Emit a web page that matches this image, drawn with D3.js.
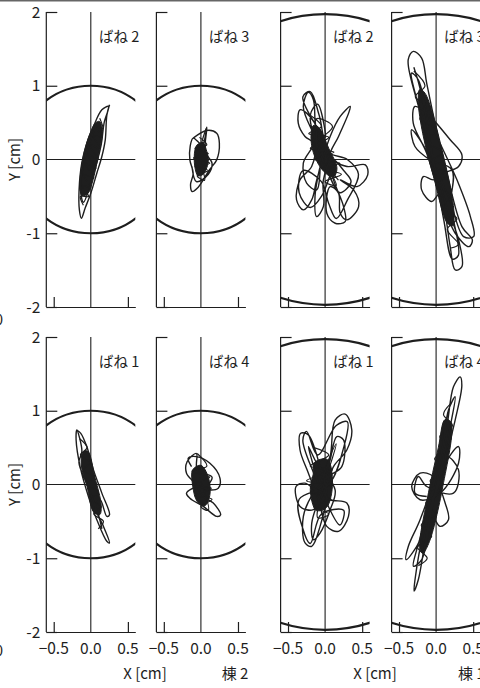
<!DOCTYPE html>
<html>
<head>
<meta charset="utf-8">
<script src="https://cdn.jsdelivr.net/npm/d3@7"></script>
<style>
    body { margin: 0; background: #fff; }
    text { font-family: "Noto Sans CJK JP", "Noto Sans", sans-serif; fill: #1e1e1e; }
</style>
</head>
<body>
<svg id="chart" width="480" height="688"></svg>
<script>
// tick values and labels
var xTicks = [-0.5, 0, 0.5];
var yTicks = [-2, -1, 0, 1, 2];
var springLabels = [["ばね 2", "ばね 3", "ばね 2", "ばね 3"], ["ばね 1", "ばね 4", "ばね 1", "ばね 4"]];
var buildingLabels = ["棟 2", "棟 1"];
var ringRadius = [1, 1, 1.97, 1.97];

// orbits [x cm, y cm]
// core = dense (solid) part, scribble = tight back-and-forth swings through it
// top row
var orbitT1 = [[0.253,0.742],[0.217,0.606],[0.195,0.267],[0.149,0.041],[0.081,-0.186],[0,-0.457],[-0.077,-0.661],[-0.127,-0.796],
    [-0.154,-0.683],[-0.158,-0.412],[-0.122,-0.05],[-0.054,0.222],[0.036,0.448],[0.149,0.674],[0.24,0.72],[0.18,0.5],[0.14,0.2],
    [0.02,-0.25],[-0.1,-0.58],[-0.14,-0.35],[-0.06,0.08],[0.08,0.48]];
var coreT1 = [[0.118,0.516],[0.158,0.38],[0.127,0.176],[0.072,-0.095],[0.018,-0.321],[-0.036,-0.457],[-0.118,-0.493],
    [-0.145,-0.344],[-0.118,-0.05],[-0.063,0.199],[0,0.38],[0.059,0.493]];
var scribbleT1 = [[0.12,0.56],[0.16,0.42],[0.06,0.45],[0.15,0.3],[0.03,0.32],[0.13,0.15],[-0.02,0.2],[0.1,0.0],[-0.06,0.08],
    [0.07,-0.12],[-0.08,-0.05],[0.04,-0.25],[-0.11,-0.2],[0.0,-0.38],[-0.13,-0.35],[-0.03,-0.5],[-0.14,-0.5],[-0.1,-0.62]];

var orbitT2 = [[-0.104,0.29],[0.077,0.394],[0.213,0.357],[0.249,0.222],[0.213,-0.005],[0.122,-0.131],[0.045,-0.253],
    [-0.036,-0.376],[-0.118,-0.434],[-0.14,-0.344],[-0.104,-0.186],[-0.149,-0.005],[-0.145,0.176],[-0.104,0.29],
    [0.02,0.2],[0.08,0.437],[0.06,0.1],[0.15,-0.05],[0.1,-0.2],[-0.06,-0.3],[-0.12,-0.1]];
var coreT2 = [[-0.05,0.2],[0.03,0.23],[0.07,0.14],[0.1,0.0],[0.08,-0.11],[0.03,-0.2],[-0.04,-0.22],[-0.08,-0.11],
    [-0.09,0.02],[-0.08,0.13]];
var scribbleT2 = [[-0.02,0.3],[0.08,0.2],[-0.08,0.15],[0.1,0.08],[-0.1,0.02],[0.12,-0.05],[-0.08,-0.1],[0.1,-0.15],
    [-0.05,-0.22],[0.05,-0.28],[-0.02,0.05],[0.07,0.42]];

var orbitT3 = [[-0.023,0.131],[-0.181,0.403],[-0.294,0.719],[-0.226,0.91],[-0.158,0.81],[-0.136,0.538],[-0.113,0.267],
    [-0.181,-0.095],[-0.339,-0.276],[-0.385,-0.548],[-0.294,-0.683],[-0.181,-0.548],[-0.113,-0.276],[0.068,0.312],
    [0.204,0.584],[0.339,0.719],[0.317,0.629],[0.181,0.312],[0.068,0.041],[0.294,-0.095],[0.543,-0.072],[0.575,-0.208],
    [0.43,-0.367],[0.204,-0.276],[0.385,-0.412],[0.452,-0.638],[0.294,-0.819],[0.204,-0.729],[0.181,-0.457],
    [0.068,-0.367],[0.023,-0.729],[0.136,-0.864],[0.271,-0.842],[0.249,-0.638],[0.113,-0.276],[-0.068,0.357],
    [-0.249,0.629],[-0.339,0.674],[-0.362,0.493],[-0.271,0.312],[-0.158,0.222],[-0.294,-0.05],[-0.249,-0.321],
    [-0.113,-0.412],[-0.068,-0.095],[-0.136,-0.502],[-0.113,-0.774],[-0.023,-0.638],[-0.023,-0.276],[0.1,0.0],
    [0.25,-0.15],[0.35,-0.3],[0.2,-0.45],[0.05,-0.2],[-0.2,0.6],[-0.1,0.75],[0.0,0.3],[-0.3,0.85],[-0.2,0.92],
    [-0.08,0.6],[0.05,0.1],[0.3,0.0],[0.45,-0.2],[0.3,-0.55],[0.15,-0.8],[0.05,-0.6],[-0.05,-0.3],[-0.3,-0.15],
    [-0.35,-0.45],[-0.2,-0.65],[-0.05,-0.5],[0.1,-0.1]];
var coreT3 = [[-0.16,0.46],[-0.09,0.44],[0.05,0.15],[0.16,-0.12],[0.11,-0.24],[-0.02,-0.16],[-0.14,0.04],[-0.19,0.28]];
var scribbleT3 = [[-0.2,0.6],[-0.05,0.45],[-0.22,0.35],[0.05,0.3],[-0.2,0.15],[0.12,0.1],[-0.15,0.0],[0.2,-0.05],
    [-0.05,-0.12],[0.22,-0.2],[0.0,-0.3],[0.15,-0.35],[-0.1,0.2],[0.1,0.45],[-0.12,0.55],[0.02,-0.05],[0.18,-0.28]];

var orbitT4 = [[-0.081,0.267],[-0.262,0.81],[-0.376,1.353],[-0.308,1.466],[-0.195,1.376],[-0.127,1.036],[-0.014,0.493],
    [0.145,-0.186],[0.348,-0.91],[0.489,-1.09],[0.443,-1.181],[0.258,-1.0],[0.054,-0.502],[-0.127,0.086],[-0.308,0.493],
    [-0.285,0.719],[-0.127,0.629],[0.19,0.267],[0.348,0.063],[0.303,-0.095],[0.1,-0.186],[-0.036,-0.276],[-0.172,-0.231],
    [-0.195,-0.412],[-0.059,-0.57],[0.054,-0.457],[0.122,-0.729],[0.19,-1.181],[0.258,-1.498],[0.348,-1.453],
    [0.303,-1.09],[0.145,-0.638],[-0.172,0.493],[-0.331,1.172],[-0.24,1.081],[-0.104,0.584],[0.281,-0.276],
    [0.462,-0.774],[0.507,-1.045],[0.371,-1.045],[0.167,-0.502],[-0.217,0.267],[-0.331,0.403],[-0.285,0.176],
    [-0.081,-0.005],[0.213,-0.14],[0.2,-0.6],[0.3,-1.3],[0.22,-1.35],[0.1,-0.8],[-0.2,0.9],[-0.3,1.25]];
var coreT4 = [[-0.22,0.95],[-0.15,0.9],[0.08,0.13],[0.24,-0.7],[0.22,-0.9],[0.15,-0.86],[-0.03,-0.25],[-0.18,0.35],
    [-0.24,0.78]];
var scribbleT4 = [[-0.3,1.2],[-0.15,1.0],[-0.28,0.85],[-0.08,0.7],[-0.22,0.55],[0.0,0.4],[-0.15,0.25],[0.08,0.1],
    [-0.08,-0.05],[0.15,-0.2],[0.0,-0.35],[0.22,-0.5],[0.08,-0.65],[0.28,-0.8],[0.15,-0.95],[0.3,-1.15],[0.2,-1.2]];

// bottom row
var orbitB1 = [[-0.189,0.739],[-0.135,0.694],[-0.054,0.514],[0.036,0.198],[0.149,-0.117],[0.252,-0.41],[0.216,-0.432],
    [0.126,-0.207],[0.059,-0.297],[0.171,-0.568],[0.252,-0.793],[0.216,-0.77],[0.081,-0.477],[-0.032,-0.162],
    [-0.144,0.243],[-0.198,0.604],[-0.189,0.739],[-0.12,0.45],[-0.16,0.3],[-0.05,0.0],[0.1,-0.4],[0.15,-0.6]];
var coreB1 = [[-0.099,0.45],[-0.04,0.45],[0.055,0.1],[0.14,-0.28],[0.12,-0.41],[0.036,-0.37],[-0.05,-0.03],
    [-0.13,0.28]];
var scribbleB1 = [[-0.15,0.62],[-0.05,0.5],[-0.14,0.4],[0.0,0.3],[-0.1,0.2],[0.05,0.1],[-0.05,0.0],[0.1,-0.1],
    [0.0,-0.2],[0.14,-0.3],[0.04,-0.4],[0.17,-0.5],[0.1,-0.6]];

var orbitB2 = [[-0.126,0.243],[-0.171,0.356],[-0.059,0.378],[0.122,0.288],[0.257,0.086],[0.234,-0.05],[0.099,-0.072],
    [-0.036,-0.027],[-0.194,-0.117],[-0.149,-0.185],[0.032,-0.297],[0.212,-0.432],[0.266,-0.41],[0.167,-0.252],
    [0.032,-0.162],[-0.081,0.018],[-0.194,0.153],[-0.185,0.311],[-0.06,0.42],[-0.05,0.2],[0.15,0.1],[0.1,0.0]];
var coreB2 = [[-0.11,0.2],[0.0,0.26],[0.1,0.1],[0.12,-0.15],[0.05,-0.29],[-0.05,-0.23],[-0.11,-0.02]];
var scribbleB2 = [[-0.05,0.42],[0.08,0.25],[-0.12,0.18],[0.12,0.1],[-0.12,0.0],[0.14,-0.05],[-0.08,-0.15],
    [0.15,-0.2],[0.0,-0.3],[0.1,-0.35],[-0.02,0.1]];

var orbitB3 = [[-0.068,0.018],[0.068,0.378],[0.135,0.874],[0.27,0.955],[0.36,0.739],[0.293,0.468],[0.113,0.243],
    [-0.023,-0.117],[-0.158,-0.342],[-0.338,-0.297],[-0.392,-0.027],[-0.27,0.018],[-0.113,-0.095],[0.068,-0.207],
    [0.293,-0.252],[0.315,-0.432],[0.18,-0.635],[0.023,-0.568],[-0.09,-0.207],[-0.225,0.153],[-0.338,0.468],
    [-0.329,0.694],[-0.225,0.671],[-0.068,0.243],[0.023,-0.117],[-0.068,-0.568],[-0.18,-0.838],[-0.27,-0.793],
    [-0.293,-0.432],[-0.158,-0.117],[0.045,0.108],[0.225,0.243],[0.248,0.604],[0.158,0.649],[0.068,0.333],
    [-0.023,-0.027],[-0.18,-0.523],[-0.158,-0.748],[-0.068,-0.658],[0.068,-0.342],[0.135,-0.072],[-0.113,0.288],
    [-0.225,0.514],[-0.18,0.333],[-0.09,0.018],[-0.3,0.6],[-0.25,0.72],[-0.1,0.4],[0.15,0.8],[0.3,0.85],[0.25,0.5],
    [0.05,0.0],[-0.35,-0.2],[-0.3,-0.6],[-0.2,-0.8],[-0.05,-0.4],[0.25,-0.35],[0.2,-0.55],[0.0,-0.2]];
var coreB3 = [[-0.14,0.3],[0.03,0.34],[0.1,0.02],[0.02,-0.31],[-0.12,-0.35],[-0.2,-0.07],[-0.16,0.14]];
var scribbleB3 = [[-0.15,0.5],[0.05,0.4],[-0.2,0.25],[0.1,0.2],[-0.25,0.05],[0.12,0.0],[-0.2,-0.1],[0.08,-0.2],
    [-0.15,-0.3],[0.05,-0.4],[-0.1,-0.45],[0.15,0.55],[-0.05,0.1]];

var orbitB4 = [[-0.036,-0.027],[0.144,0.784],[0.234,1.324],[0.324,1.459],[0.347,1.347],[0.257,0.874],[0.054,0.063],
    [-0.171,-0.658],[-0.284,-1.288],[-0.297,-1.446],[-0.239,-1.288],[-0.126,-0.658],[0.077,0.198],[0.302,0.514],
    [0.302,0.288],[0.054,-0.117],[-0.216,-0.207],[-0.329,-0.027],[-0.216,0.153],[-0.036,0.108],[0.122,-0.252],
    [0.167,-0.477],[0.054,-0.568],[-0.059,-0.432],[-0.261,-0.838],[-0.405,-1.018],[-0.374,-0.838],[-0.216,-0.477],
    [0.054,0.333],[0.167,1.009],[0.257,1.189],[0.189,0.784],[-0.059,-0.342],[-0.194,-1.018],[-0.306,-1.108],
    [-0.261,-0.883],[0.009,-0.027],[0.144,0.378],[0.302,0.198],[0.234,-0.117],[-0.126,-0.027],[-0.239,0.108],
    [-0.284,-0.117],[-0.126,-0.162]];
var coreB4 = [[0.12,0.88],[0.2,0.84],[0.09,-0.03],[-0.1,-0.8],[-0.18,-0.93],[-0.22,-0.85],[-0.12,-0.2],[0.03,0.5]];
var scribbleB4 = [[0.2,1.1],[0.1,0.95],[0.22,0.8],[0.05,0.65],[0.18,0.5],[-0.02,0.35],[0.12,0.2],[-0.08,0.05],
    [0.06,-0.1],[-0.14,-0.25],[0.0,-0.4],[-0.2,-0.55],[-0.06,-0.7],[-0.25,-0.85],[-0.12,-1.0],[-0.24,-1.1]];

var orbits = [[orbitT1, orbitT2, orbitT3, orbitT4], [orbitB1, orbitB2, orbitB3, orbitB4]];
var cores = [[coreT1, coreT2, coreT3, coreT4], [coreB1, coreB2, coreB3, coreB4]];
var scribbles = [[scribbleT1, scribbleT2, scribbleT3, scribbleT4], [scribbleB1, scribbleB2, scribbleB3, scribbleB4]];

var setting = {
    panelLeft: [46.3, 156.4, 280.6, 391.6],
    rowTop: [12, 337],
    panelWidth: 89,
    panelHeight: 295,
    ink: "#1e1e1e"
};

var svg = d3.select("#chart");

// thin gray rule along the top edge
svg.append("rect").attr("x", 0).attr("y", 0).attr("width", 480).attr("height", 1.5).attr("fill", "#666");

function drawPanel(row, col) {
    var left = setting.panelLeft[col],
        top = setting.rowTop[row];
    var x = d3.scaleLinear().domain([-0.6, 0.6]).range([left, left + setting.panelWidth]);
    var y = d3.scaleLinear().domain([-2, 2]).range([top + setting.panelHeight, top]);
    var g = svg.append("g");
    var clipId = "clip" + row + col;

    g.append("clipPath").attr("id", clipId)
        .append("rect")
        .attr("x", x(-0.6)).attr("y", y(2) - 2)
        .attr("width", x(0.6) - x(-0.6)).attr("height", y(-2) - y(2) + 2);

    // reference ring
    var r = ringRadius[col];
    g.append("ellipse")
        .attr("clip-path", "url(#" + clipId + ")")
        .attr("cx", x(0)).attr("cy", y(0))
        .attr("rx", x(r) - x(0)).attr("ry", y(0) - y(r))
        .attr("fill", "none").attr("stroke", setting.ink).attr("stroke-width", 2.2);

    // cross through the origin
    g.append("line").attr("x1", x(0)).attr("x2", x(0)).attr("y1", y(-2)).attr("y2", y(2))
        .attr("stroke", setting.ink).attr("stroke-width", 1.1);
    g.append("line").attr("x1", x(-0.6)).attr("x2", x(0.6)).attr("y1", y(0)).attr("y2", y(0))
        .attr("stroke", setting.ink).attr("stroke-width", 1.1);

    // left and bottom axes with inward ticks
    var yAxis = g.append("g").attr("transform", "translate(" + x(-0.6) + ",0)")
        .call(d3.axisRight(y).tickValues([-2, -1, 1, 2]).tickSize(11).tickSizeOuter(0).tickFormat(""));
    var xAxis = g.append("g").attr("transform", "translate(0," + y(-2) + ")")
        .call(d3.axisTop(x).tickValues([-0.5, 0.5]).tickSize(10).tickSizeOuter(0).tickFormat(""));
    [yAxis, xAxis].forEach(function (a) {
        a.selectAll("path, line").attr("stroke", setting.ink).attr("stroke-width", 1.2);
    });
    yAxis.select(".domain").attr("d", "M0," + y(-2) + "V" + y(2));

    // orbit: solid core, swings through it, then the wider loops
    var line = d3.line().x(function (d) { return x(d[0]); }).y(function (d) { return y(d[1]); });
    g.append("path")
        .attr("d", line.curve(d3.curveCatmullRomClosed.alpha(0.5))(cores[row][col]))
        .attr("fill", setting.ink).attr("stroke", setting.ink).attr("stroke-width", 1);
    g.append("path")
        .attr("d", line.curve(d3.curveCatmullRom.alpha(0.5))(scribbles[row][col]))
        .attr("fill", "none").attr("stroke", setting.ink).attr("stroke-width", 1.2)
        .attr("stroke-linejoin", "round");
    g.append("path")
        .attr("d", line.curve(d3.curveCatmullRom.alpha(0.5))(orbits[row][col]))
        .attr("fill", "none").attr("stroke", setting.ink).attr("stroke-width", 1.4)
        .attr("stroke-linejoin", "round");

    // spring label
    g.append("text")
        .attr("x", x(0.6) + 4).attr("y", top + 30)
        .attr("text-anchor", "end").attr("font-size", 14.5)
        .text(springLabels[row][col]);

    // y tick labels, first column only
    if (col == 0) {
        g.selectAll(".ylab").data(yTicks).enter().append("text")
            .attr("x", x(-0.6) - 6).attr("y", function (d) { return y(d); })
            .attr("dy", "0.36em").attr("text-anchor", "end").attr("font-size", 15.5)
            .text(function (d) { return d; });
        g.append("text")
            .attr("transform", "translate(" + 20 + "," + y(0) + ") rotate(-90)")
            .attr("text-anchor", "middle").attr("font-size", 15)
            .text("Y [cm]");
    }

    // x tick labels, bottom row only
    if (row == 1) {
        g.selectAll(".xlab").data(xTicks).enter().append("text")
            .attr("x", function (d) { return x(d); }).attr("y", y(-2) + 22)
            .attr("text-anchor", "middle").attr("font-size", 15.5)
            .text(function (d) { return d3.format(".1f")(d); });
    }
}

for (var iRow = 0; iRow < 2; iRow++) {
    for (var iCol = 0; iCol < 4; iCol++) {
        drawPanel(iRow, iCol);
    }
}

// captions under each building pair
var captionX = [[145, 235], [375, 458]];
for (var i = 0; i < 2; i++) {
    svg.append("text").attr("x", captionX[i][0]).attr("y", 679)
        .attr("text-anchor", "middle").attr("font-size", 15).text("X [cm]");
    svg.append("text").attr("x", captionX[i][1]).attr("y", 679)
        .attr("text-anchor", i == 0 ? "middle" : "start").attr("font-size", 15).text(buildingLabels[i]);
}

// clipped panel letters at the left edge
[325, 656].forEach(function (yy) {
    svg.append("text").attr("x", 3).attr("y", yy).attr("text-anchor", "end").attr("font-size", 15).text("0");
});
</script>
</body>
</html>
